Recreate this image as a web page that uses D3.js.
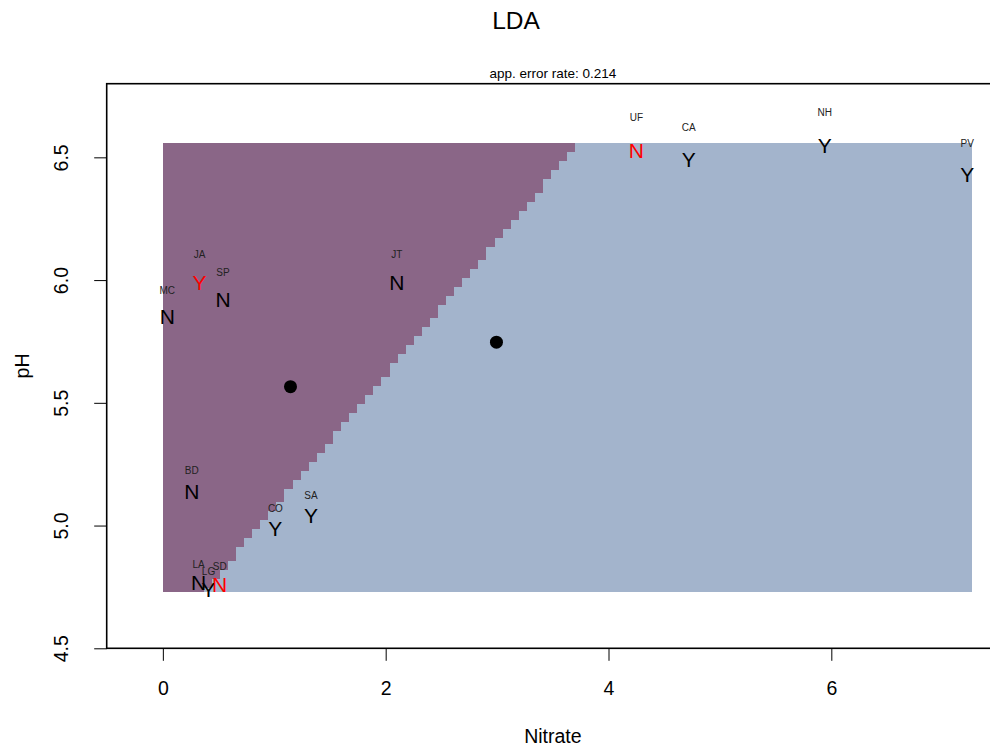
<!DOCTYPE html>
<html>
<head>
<meta charset="utf-8">
<script src="https://cdn.jsdelivr.net/npm/d3@7"></script>
<style>
  html, body { margin: 0; padding: 0; background: #fff; }
  svg text { font-family: "Liberation Sans", Arial, Helvetica, sans-serif; }
</style>
</head>
<body>
<svg id="chart" width="990" height="749"></svg>
<script>
// Sites with nitrate and pH readings and their observed class
const sites   = ["MC", "JA", "SP", "JT", "BD", "CO", "SA", "LA", "LG", "SD", "UF", "CA", "NH", "PV"];
const nitrate = [0.04, 0.33, 0.54, 2.10, 0.26, 1.01, 1.33, 0.32, 0.41, 0.51, 4.25, 4.72, 5.94, 7.22];
const pH      = [5.85, 5.99, 5.92, 5.99, 5.14, 4.99, 5.04, 4.77, 4.74, 4.76, 6.53, 6.49, 6.55, 6.43];
const klass   = ["N", "Y", "N", "N", "N", "Y", "Y", "N", "Y", "N", "N", "Y", "Y", "Y"];
const classes = ["N", "Y"];
const xTicks  = [0, 2, 4, 6];
const yTicks  = [4.5, 5.0, 5.5, 6.0, 6.5];
const gridSize = 100;
const regionColors = { N: "#8a6687", Y: "#a3b4cc" };

const svg = d3.select("#chart");
const W = 990, H = 749;

const x = d3.scaleLinear().domain([-0.504, 7.505]).range([106.7, 999]);
const y = d3.scaleLinear().domain([4.5, 6.8]).range([648.3, 83.7]);
// site names sit above their class letters on a slightly stretched vertical scale
const yName = d3.scaleLinear().domain([4.5, 6.8]).range([632.5, 49.1]);

// ---- linear discriminant analysis on (nitrate, pH) ----
const pts = sites.map((s, i) => ({ name: s, x: nitrate[i], y: pH[i], cls: klass[i] }));
const n = pts.length;
const stats = classes.map(c => {
  const g = pts.filter(p => p.cls === c);
  return { cls: c, n: g.length, mx: d3.mean(g, p => p.x), my: d3.mean(g, p => p.y), pts: g };
});
let sxx = 0, syy = 0, sxy = 0;
stats.forEach(s => s.pts.forEach(p => {
  const dx = p.x - s.mx, dy = p.y - s.my;
  sxx += dx * dx; syy += dy * dy; sxy += dx * dy;
}));
const df = n - classes.length;
sxx /= df; syy /= df; sxy /= df;
const det = sxx * syy - sxy * sxy;
const inv = [[syy / det, -sxy / det], [-sxy / det, sxx / det]];
// discriminant score per class: x' S^-1 mu - 0.5 mu' S^-1 mu + log(prior)
const disc = stats.map(s => {
  const a = inv[0][0] * s.mx + inv[0][1] * s.my;
  const b = inv[1][0] * s.mx + inv[1][1] * s.my;
  const c0 = -0.5 * (s.mx * a + s.my * b) + Math.log(s.n / n);
  return { cls: s.cls, a, b, c0 };
});
function predict(px, py) {
  let best = null, bestV = -Infinity;
  disc.forEach(d => {
    const v = d.a * px + d.b * py + d.c0;
    if (v > bestV) { bestV = v; best = d.cls; }
  });
  return best;
}
pts.forEach(p => { p.pred = predict(p.x, p.y); });
const errRate = d3.mean(pts, p => (p.pred !== p.cls ? 1 : 0));

// ---- partition grid ----
const [xmin, xmax] = d3.extent(nitrate);
const [ymin, ymax] = d3.extent(pH);
const dxCell = (xmax - xmin) / (gridSize - 1);
const dyCell = (ymax - ymin) / (gridSize - 1);
const cells = [];
for (let j = 0; j < gridSize; j++) {
  const cy = ymin + j * dyCell;
  for (let i = 0; i < gridSize; i++) {
    const cx = xmin + i * dxCell;
    cells.push({ cx, cy, cls: predict(cx, cy) });
  }
}
svg.append("g")
  .attr("shape-rendering", "crispEdges")
  .selectAll("rect")
  .data(cells)
  .join("rect")
  .attr("x", d => x(d.cx - dxCell / 2))
  .attr("y", d => y(d.cy + dyCell / 2))
  .attr("width", d => x(d.cx + dxCell / 2) - x(d.cx - dxCell / 2) + 0.5)
  .attr("height", d => y(d.cy - dyCell / 2) - y(d.cy + dyCell / 2) + 0.5)
  .attr("fill", d => regionColors[d.cls]);

// ---- site names ----
svg.append("g").selectAll("text")
  .data(pts)
  .join("text")
  .attr("x", d => x(d.x))
  .attr("y", d => yName(d.y))
  .attr("dy", "0.36em")
  .attr("text-anchor", "middle")
  .attr("font-size", 10)
  .attr("fill", "#222")
  .text(d => d.name);

// ---- class letters, red when misclassified ----
svg.append("g").selectAll("text")
  .data(pts)
  .join("text")
  .attr("x", d => x(d.x))
  .attr("y", d => y(d.y))
  .attr("dy", "0.36em")
  .attr("text-anchor", "middle")
  .attr("font-size", 21)
  .attr("fill", d => (d.pred !== d.cls ? "#ff0000" : "#000"))
  .text(d => d.cls);

// ---- class means ----
svg.append("g").selectAll("circle")
  .data(stats)
  .join("circle")
  .attr("cx", d => x(d.mx))
  .attr("cy", d => y(d.my))
  .attr("r", 6.5)
  .attr("fill", "#000");

// ---- frame and axes ----
const x0 = x.range()[0], x1 = x.range()[1];
const yTop = y.range()[1], yBot = y.range()[0];
svg.append("rect")
  .attr("x", x0).attr("y", yTop)
  .attr("width", x1 - x0).attr("height", yBot - yTop)
  .attr("fill", "none").attr("stroke", "#000").attr("stroke-width", 1.6);

const xAxis = svg.append("g")
  .attr("transform", `translate(0,${yBot})`)
  .call(d3.axisBottom(x).tickValues(xTicks).tickFormat(d3.format("d")).tickSize(12.5).tickPadding(20));
xAxis.select(".domain").remove();
xAxis.selectAll("line").attr("stroke", "#000").attr("stroke-width", 1);
xAxis.selectAll("text").attr("font-size", 19.5).attr("fill", "#000").attr("font-family", null);

const yAxis = svg.append("g")
  .attr("transform", `translate(${x0},0)`)
  .call(d3.axisLeft(y).tickValues(yTicks).tickFormat(d3.format(".1f")).tickSize(12.5));
yAxis.select(".domain").remove();
yAxis.selectAll("line").attr("stroke", "#000").attr("stroke-width", 1);
yAxis.selectAll("text")
  .attr("font-size", 19.5).attr("fill", "#000").attr("font-family", null)
  .attr("text-anchor", "middle")
  .attr("x", null).attr("dy", null)
  .attr("transform", "translate(-39,0) rotate(-90)");

// ---- titles ----
svg.append("text")
  .attr("x", 516).attr("y", 29)
  .attr("text-anchor", "middle").attr("font-size", 24.5)
  .text("LDA");
svg.append("text")
  .attr("x", (x0 + x1) / 2).attr("y", 78)
  .attr("text-anchor", "middle").attr("font-size", 13.5)
  .text("app. error rate: " + d3.format(".3f")(errRate));
svg.append("text")
  .attr("x", (x0 + x1) / 2).attr("y", 743)
  .attr("text-anchor", "middle").attr("font-size", 19.5)
  .text("Nitrate");
svg.append("text")
  .attr("transform", `translate(29,${(yTop + yBot) / 2}) rotate(-90)`)
  .attr("text-anchor", "middle").attr("font-size", 19.5)
  .text("pH");
</script>
</body>
</html>
